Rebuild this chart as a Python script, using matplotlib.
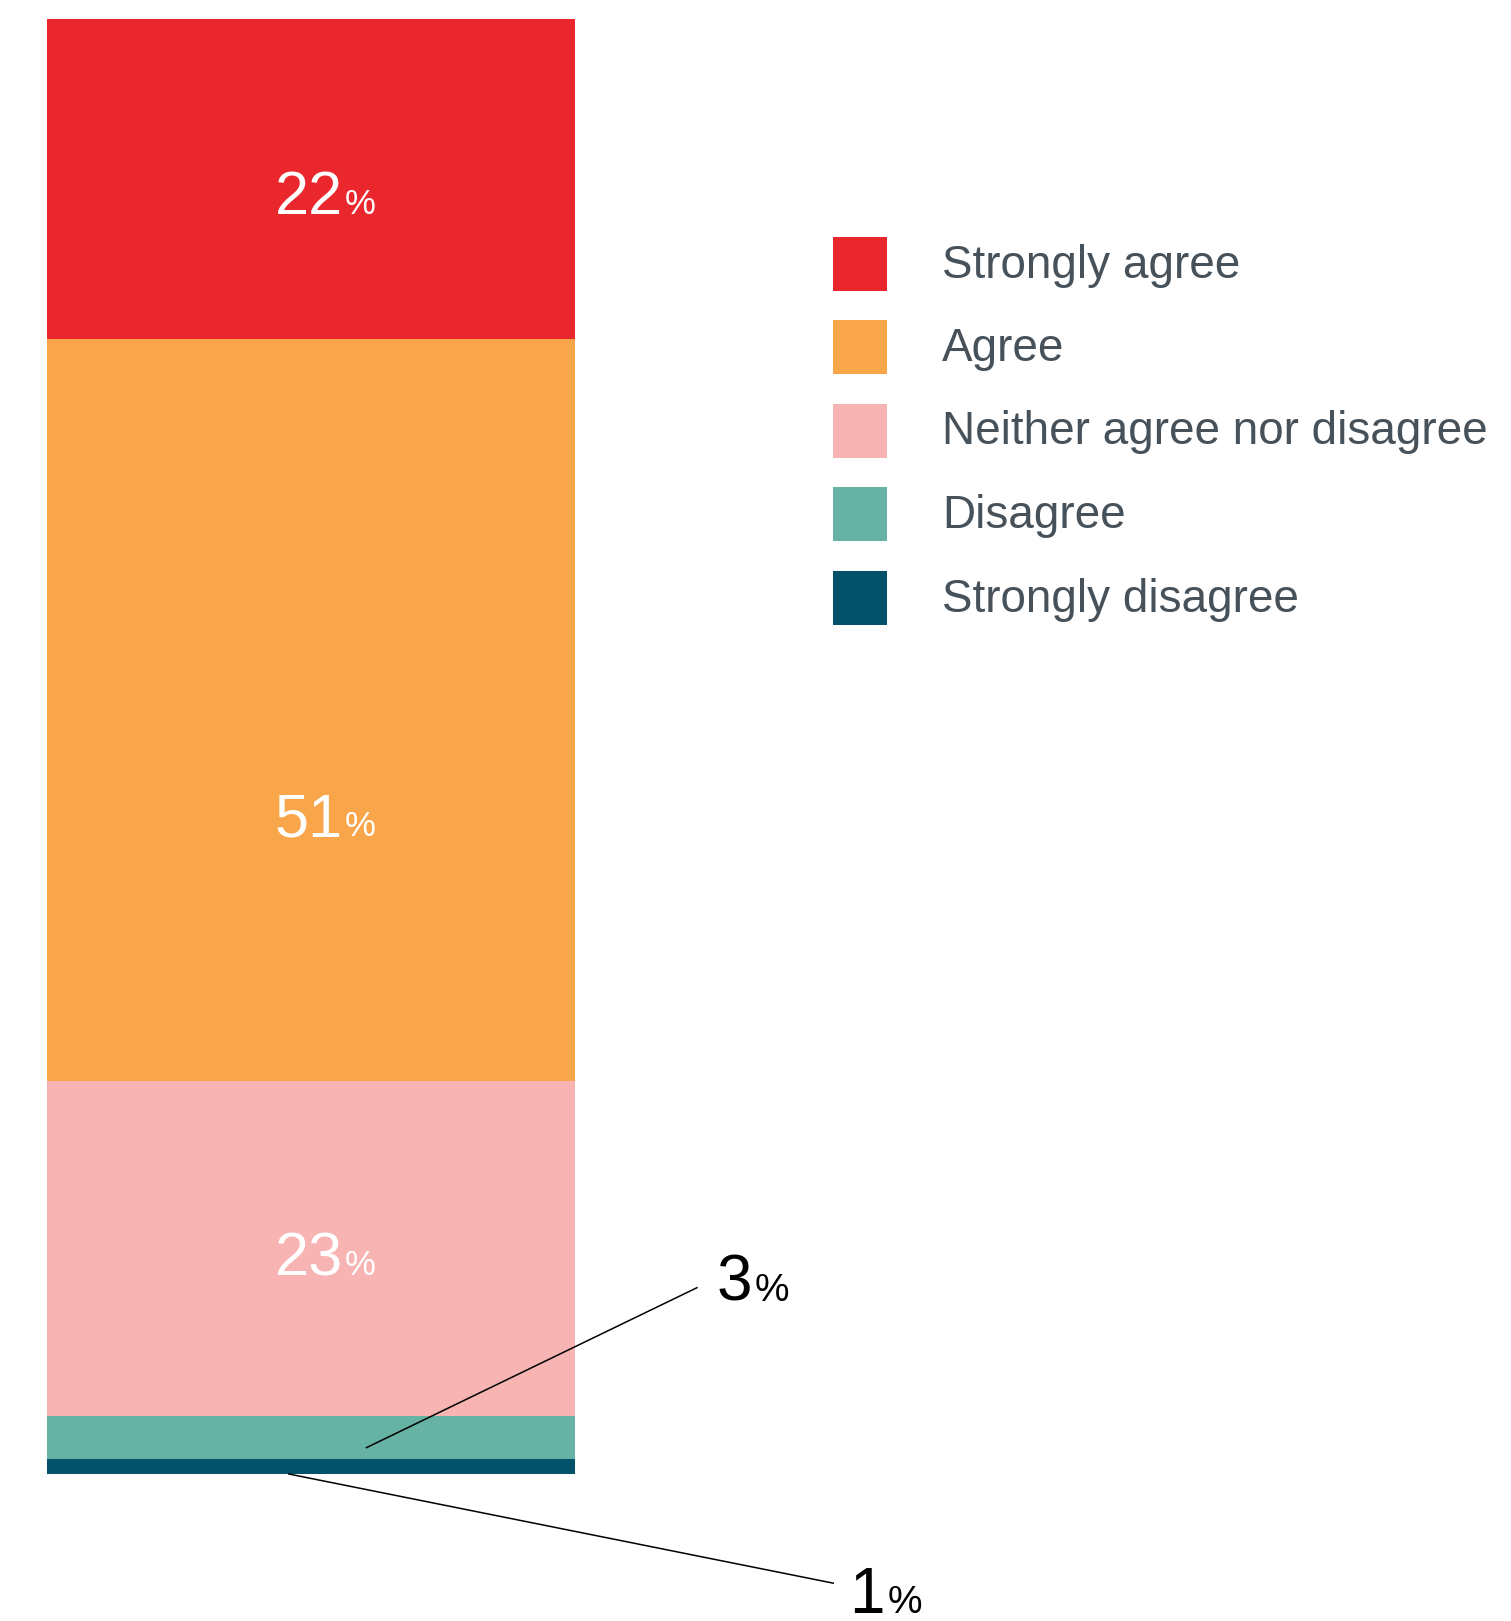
"""Stacked single-bar chart of agreement levels with a side legend."""

import matplotlib.pyplot as plt

# Survey response shares (%), top of the bar first
categories = ["Strongly agree", "Agree", "Neither agree nor disagree",
              "Disagree", "Strongly disagree"]
shares = [22, 51, 23, 3, 1]
colors = ["#EA272C", "#F9A54A", "#F7B4B3", "#66B2A5", "#02526C"]

plt.rcParams["font.family"] = ["Liberation Sans", "DejaVu Sans"]

W, H = 1511, 1621
fig = plt.figure(figsize=(W / 100, H / 100), dpi=100)
fig.patch.set_facecolor("white")

# axes sized to the bar itself (pixel box converted to figure fractions)
bar_l, bar_r, bar_t, bar_b = 47, 575, 18.6, 1474
ax = fig.add_axes([bar_l / W, 1 - bar_b / H, (bar_r - bar_l) / W, (bar_b - bar_t) / H])
ax.set_xlim(-0.5, 0.5)
ax.set_ylim(0, sum(shares))
ax.axis("off")

# stack from the bottom up
bottom = 0
bottoms = {}
for cat, val, col in reversed(list(zip(categories, shares, colors))):
    ax.bar(0, val, width=1.0, bottom=bottom, color=col, linewidth=0)
    bottoms[cat] = bottom
    bottom += val

# in-bar labels: where in each segment the baseline sits
inner_anchor = {"Strongly agree": 0.39, "Agree": 0.33, "Neither agree nor disagree": 0.42}
for cat, val in zip(categories, shares):
    if cat not in inner_anchor:
        continue
    y = bottoms[cat] + inner_anchor[cat] * val
    ax.text(0.060, y, f"{val}", color="white", fontsize=44, ha="right", va="baseline")
    ax.text(0.064, y, "%", color="white", fontsize=25, ha="left", va="baseline")

# callouts for the two thin segments (leader start given as a fraction of the segment)
callouts = {
    "Disagree": dict(start=(0.105, 0.27), end=(0.731, 12.8), text=(0.768, 11.9)),
    "Strongly disagree": dict(start=(-0.042, 0.0), end=(0.989, -7.5), text=(1.020, -9.55)),
}
for cat, val in zip(categories, shares):
    if cat not in callouts:
        continue
    c = callouts[cat]
    sx, frac = c["start"]
    sy = bottoms[cat] + val * frac
    ex, ey = c["end"]
    ax.plot([sx, ex], [sy, ey], color="black", linewidth=1.1, clip_on=False)
    tx, ty = c["text"]
    t = ax.text(tx, ty, f"{val}", color="black", fontsize=46, ha="left", va="baseline", clip_on=False)
    fig.canvas.draw()
    bb = t.get_window_extent().transformed(ax.transData.inverted())
    ax.text(bb.x1 + 0.004, ty, "%", color="black", fontsize=28, ha="left", va="baseline", clip_on=False)

# legend drawn by hand, square swatches beside labels
leg_x, sw = 833, 54
leg_y0, leg_dy = 263.5, 83.5
for i, (cat, col) in enumerate(zip(categories, colors)):
    cy = leg_y0 + i * leg_dy
    fig.patches.append(plt.Rectangle((leg_x / W, 1 - (cy + sw / 2) / H), sw / W, sw / H,
                                     transform=fig.transFigure, color=col, linewidth=0))
    fig.text(942 / W, 1 - (cy + 14) / H, cat, color="#46515A", fontsize=33,
             ha="left", va="baseline")

fig.savefig("out.png", dpi=100, facecolor="white")
